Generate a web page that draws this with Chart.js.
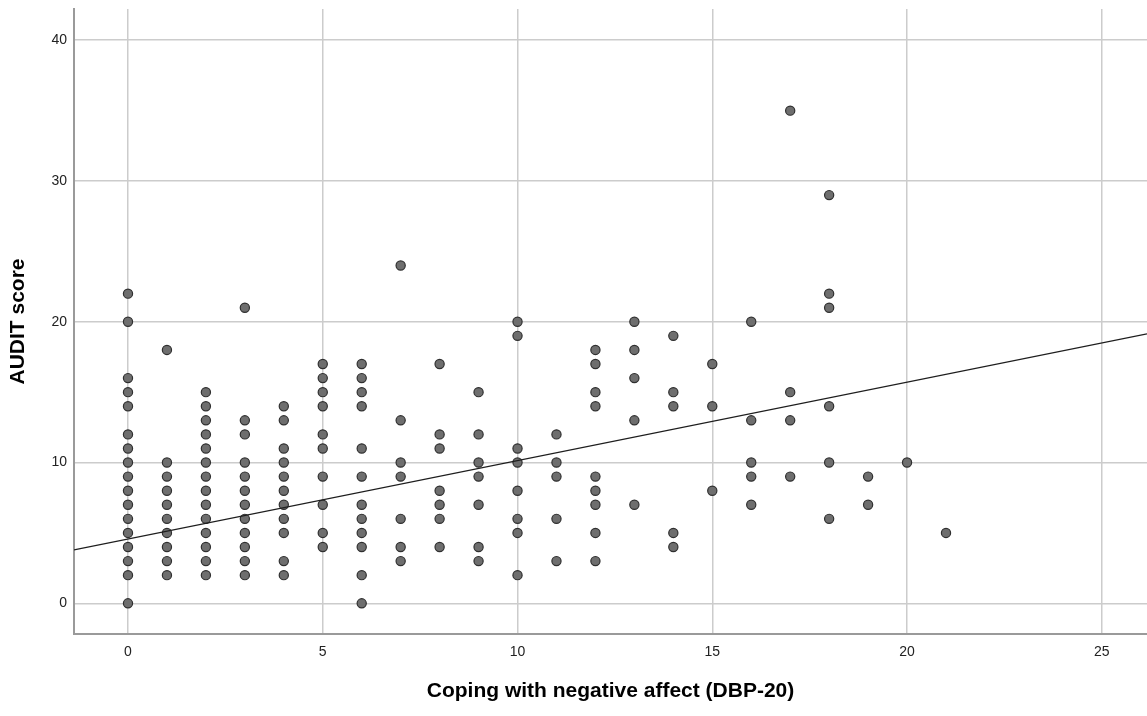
<!DOCTYPE html>
<html>
<head>
<meta charset="utf-8">
<script src="https://cdn.jsdelivr.net/npm/chart.js@4"></script>
<style>
  html, body { margin: 0; padding: 0; background: #ffffff; overflow: hidden; }
  #wrap { width: 1147px; height: 716px; position: relative; }
</style>
</head>
<body>
<div id="wrap"><canvas id="c"></canvas></div>
<script>
// DBP-20 "Coping with negative affect" scores (x categories)
const dbpScores = [0, 1, 2, 3, 4, 5, 6, 7, 8, 9, 10, 11, 12, 13, 14, 15, 16, 17, 18, 19, 20, 21];
const auditAt0  = [22, 20, 16, 15, 14, 12, 11, 10, 9, 8, 7, 6, 5, 4, 3, 2, 0];
const auditAt1  = [18, 10, 9, 8, 7, 6, 5, 4, 3, 2];
const auditAt2  = [15, 14, 13, 12, 11, 10, 9, 8, 7, 6, 5, 4, 3, 2];
const auditAt3  = [21, 13, 12, 10, 9, 8, 7, 6, 5, 4, 3, 2];
const auditAt4  = [14, 13, 11, 10, 9, 8, 7, 6, 5, 3, 2];
const auditAt5  = [17, 16, 15, 14, 12, 11, 9, 7, 5, 4];
const auditAt6  = [17, 16, 15, 14, 11, 9, 7, 6, 5, 4, 2, 0];
const auditAt7  = [24, 13, 10, 9, 6, 4, 3];
const auditAt8  = [17, 12, 11, 8, 7, 6, 4];
const auditAt9  = [15, 12, 10, 9, 7, 4, 3];
const auditAt10 = [20, 19, 11, 10, 8, 6, 5, 2];
const auditAt11 = [12, 10, 9, 6, 3];
const auditAt12 = [18, 17, 15, 14, 9, 8, 7, 5, 3];
const auditAt13 = [20, 18, 16, 13, 7];
const auditAt14 = [19, 15, 14, 5, 4];
const auditAt15 = [17, 14, 8];
const auditAt16 = [20, 13, 10, 9, 7];
const auditAt17 = [35, 15, 13, 9];
const auditAt18 = [29, 22, 21, 14, 10, 6];
const auditAt19 = [9, 7];
const auditAt20 = [10];
const auditAt21 = [5];
const auditByScore = [auditAt0, auditAt1, auditAt2, auditAt3, auditAt4, auditAt5, auditAt6,
  auditAt7, auditAt8, auditAt9, auditAt10, auditAt11, auditAt12, auditAt13, auditAt14,
  auditAt15, auditAt16, auditAt17, auditAt18, auditAt19, auditAt20, auditAt21];

// Fit line end points (at the axis edges)
const fitX = [-1.386, 26.16];
const fitY = [3.80, 19.14];

// Tick labels
const xTicks = [0, 5, 10, 15, 20, 25];
const yTicks = [0, 10, 20, 30, 40];

const scatterPoints = [];
dbpScores.forEach((s, i) => {
  auditByScore[i].forEach(v => scatterPoints.push({ x: s, y: v }));
});
const fitPoints = fitX.map((x, i) => ({ x: x, y: fitY[i] }));

const FONT = "'Liberation Sans', Arial, sans-serif";

new Chart(document.getElementById('c'), {
  type: 'scatter',
  data: {
    datasets: [
      {
        type: 'line',
        data: fitPoints,
        borderColor: '#1e1e1e',
        borderWidth: 1.3,
        pointRadius: 0,
        fill: false,
        order: 0
      },
      {
        type: 'scatter',
        data: scatterPoints,
        backgroundColor: '#6e6e6e',
        borderColor: '#2f2f2f',
        borderWidth: 1.2,
        pointRadius: 4.6,
        order: 1
      }
    ]
  },
  options: {
    responsive: true,
    maintainAspectRatio: false,
    animation: false,
    layout: { autoPadding: false, padding: { top: 9, right: 0, left: 0, bottom: 0 } },
    plugins: { legend: { display: false }, tooltip: { enabled: false } },
    scales: {
      x: {
        type: 'linear',
        min: fitX[0],
        max: fitX[1],
        afterBuildTicks: (scale) => { scale.ticks = xTicks.map(v => ({ value: v })); },
        afterFit: (scale) => { scale.height = 82; scale.paddingLeft = 0; scale.paddingRight = 0; },
        grid: { color: '#cccccc', lineWidth: 1.5, drawTicks: false },
        border: { color: '#9a9a9a', width: 2 },
        ticks: { padding: 10, color: '#222222', font: { family: FONT, size: 14 } },
        title: {
          display: true,
          text: 'Coping with negative affect (DBP-20)',
          color: '#000000',
          font: { family: FONT, size: 21, weight: 'bold' },
          padding: { top: 0, bottom: 12.4 }
        }
      },
      y: {
        type: 'linear',
        min: -2.18,
        max: 42.22,
        afterBuildTicks: (scale) => { scale.ticks = yTicks.map(v => ({ value: v })); },
        afterFit: (scale) => { scale.width = 74; scale.paddingTop = 0; scale.paddingBottom = 0; },
        grid: { color: '#cccccc', lineWidth: 1.5, drawTicks: false },
        border: { color: '#9a9a9a', width: 2 },
        ticks: { padding: 7, color: '#222222', font: { family: FONT, size: 14 } },
        title: {
          display: true,
          text: 'AUDIT score',
          color: '#000000',
          font: { family: FONT, size: 21, weight: 'bold' },
          padding: { top: 5.4, bottom: 0 }
        }
      }
    }
  }
});
</script>
</body>
</html>
